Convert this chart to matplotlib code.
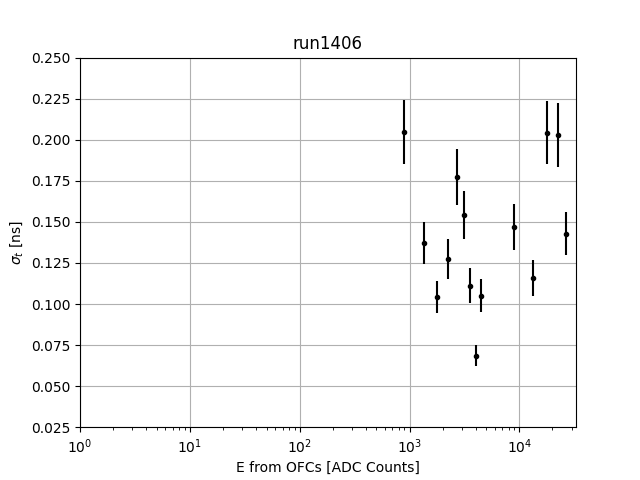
import matplotlib
matplotlib.use("Agg")
import matplotlib.pyplot as plt

energy = [893, 1358, 1783, 2247, 2713, 3142, 3564, 4042, 4459, 8970, 13360, 18030, 22700, 26680]
sigma_t = [0.2049, 0.1372, 0.1043, 0.1274, 0.1774, 0.1543, 0.1112, 0.0685, 0.1051, 0.1471, 0.1159, 0.2043, 0.2026, 0.1429]
sigma_err = [0.0195, 0.013, 0.010, 0.012, 0.017, 0.0145, 0.0105, 0.0065, 0.010, 0.014, 0.011, 0.019, 0.0195, 0.013]

fig, ax = plt.subplots(figsize=(6.4, 4.8), dpi=100)
ax.errorbar(energy, sigma_t, yerr=sigma_err, fmt='k.')
ax.set_xscale('log')
ax.set_xlim(1, 32800)
ax.set_ylim(0.025, 0.25)
ax.grid(True)
ax.set_title('run1406')
ax.set_xlabel('E from OFCs [ADC Counts]')
ax.set_ylabel(r'$\sigma_t$ [ns]')
fig.savefig('out.png', dpi=100)
